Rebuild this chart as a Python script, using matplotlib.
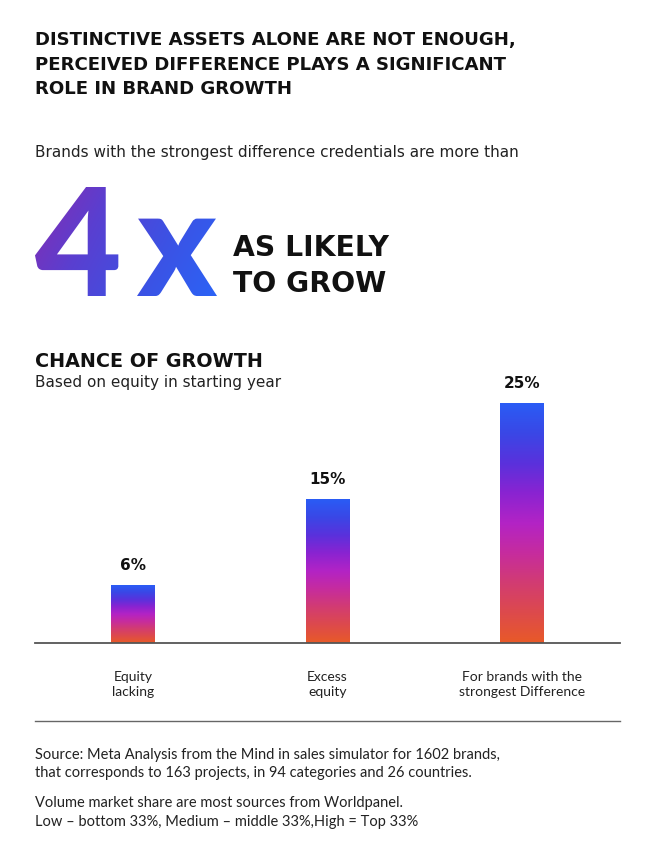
import matplotlib
matplotlib.use("Agg")
import matplotlib.pyplot as plt
import numpy as np
from matplotlib.colors import LinearSegmentedColormap
from matplotlib.font_manager import FontProperties
from matplotlib.patches import PathPatch
from matplotlib.path import Path
from matplotlib.textpath import TextPath
from matplotlib.transforms import Affine2D

# Chart data
categories = ["Equity\nlacking", "Excess\nequity", "For brands with the\nstrongest Difference"]
growth_chance = [6, 15, 25]  # % chance of growth

# Texts
title_lines = [
    "DISTINCTIVE ASSETS ALONE ARE NOT ENOUGH,",
    "PERCEIVED DIFFERENCE PLAYS A SIGNIFICANT",
    "ROLE IN BRAND GROWTH",
]
intro = "Brands with the strongest difference credentials are more than"
big_number = ["4", "x"]
big_claim = ["AS LIKELY", "TO GROW"]
chart_title = "CHANCE OF GROWTH"
chart_subtitle = "Based on equity in starting year"
source_lines = [
    "Source: Meta Analysis from the Mind in sales simulator for 1602 brands,",
    "that corresponds to 163 projects, in 94 categories and 26 countries.",
    "Volume market share are most sources from Worldpanel.",
    "Low \u2013 bottom 33%, Medium \u2013 middle 33%,High = Top 33%",
]

FONT = "Lato"        # body text
HEAD = "DejaVu Sans"  # wide headings
W, H = 662, 866

bar_cmap = LinearSegmentedColormap.from_list(
    "bars",
    ["#e85a28", "#dd4a4c", "#d23c72", "#c62c9e", "#b323c5", "#8a23d1", "#5a31dc", "#3a47e6", "#2a5cf5"],
)
num_cmap = LinearSegmentedColormap.from_list("num", ["#8a2aae", "#5a3fd0", "#3c52e4", "#2a64f7"])

fig = plt.figure(figsize=(W / 100, H / 100), dpi=100)

# background axes in pixel coordinates for all the page text
bg = fig.add_axes([0, 0, 1, 1])
bg.set_xlim(0, W)
bg.set_ylim(H, 0)
bg.axis("off")

for i, line in enumerate(title_lines):
    bg.text(35, 45 + i * 24.5, line, family=HEAD, weight="bold", fontsize=13.1, va="baseline", color="#111111")

bg.text(35, 157, intro, family=HEAD, fontsize=11, va="baseline", color="#222222")

# big gradient "4x"
prop = FontProperties(family=FONT, weight="black")
p4 = TextPath((0, 0), big_number[0], size=100, prop=prop)
px = TextPath((0, 0), big_number[1], size=100, prop=prop)
e4 = p4.get_extents()
ex = px.get_extents()
k = 109 / e4.height
t4 = Affine2D().translate(-e4.x0, 0).scale(k, -k).translate(35, 296)
tx = Affine2D().translate(-ex.x0, 0).scale(k, -k).translate(137, 296)
glyphs = Path.make_compound_path(t4.transform_path(p4), tx.transform_path(px))
patch = PathPatch(glyphs, facecolor="none", edgecolor="none", transform=bg.transData)
bg.add_patch(patch)
gx, gy = np.meshgrid(np.linspace(0, 1, 200), np.linspace(0, 1, 200))
grad = gx * 0.75 + gy * 0.25
im = bg.imshow(grad, cmap=num_cmap, extent=(30, 220, 300, 183), aspect="auto", origin="upper", zorder=2)
im.set_clip_path(patch)
bg.set_xlim(0, W)
bg.set_ylim(H, 0)

for i, line in enumerate(big_claim):
    bg.text(233, 256 + i * 36.5, line, family=HEAD, weight="bold", fontsize=20.3, va="baseline", color="#111111")

bg.text(35, 367, chart_title, family=HEAD, weight="bold", fontsize=13.8, va="baseline", color="#111111")
bg.text(35, 387, chart_subtitle, family=HEAD, fontsize=11, va="baseline", color="#222222")

# separator line above the source
bg.plot([35, 620], [721, 721], color="#666666", lw=1)

for i, line in enumerate(source_lines):
    y = [759, 777, 807, 826][i]
    bg.text(35, y, line, family=FONT, fontsize=10.5, va="baseline", color="#222222")

# bar chart
ymax = 26
ax = fig.add_axes([35 / W, 1 - 643 / H, 585 / W, 249.6 / H])
ax.patch.set_alpha(0)
bar_w = 0.226
col = np.linspace(0, 1, 256).reshape(-1, 1)
for i, v in enumerate(growth_chance):
    ax.imshow(col, cmap=bar_cmap, origin="lower", aspect="auto",
              extent=(i - bar_w / 2, i + bar_w / 2, 0, v), zorder=2)
    ax.annotate(f"{v}%", (i, v), xytext=(0, 9), textcoords="offset points",
                ha="center", va="bottom", family=HEAD, weight="bold", fontsize=11, color="#111111")
ax.set_xlim(-0.504, 2.504)
ax.set_ylim(0, ymax)
ax.set_xticks(range(len(categories)))
ax.set_xticklabels(categories, family=FONT, fontsize=10, color="#222222", linespacing=1.35)
ax.tick_params(axis="x", length=0, pad=20)
ax.set_yticks([])
for s in ["top", "right", "left"]:
    ax.spines[s].set_visible(False)
ax.spines["bottom"].set_color("#555555")
ax.spines["bottom"].set_linewidth(1.3)
ax.spines["bottom"].set_zorder(3)

fig.savefig("out.png", dpi=100, facecolor="white")
